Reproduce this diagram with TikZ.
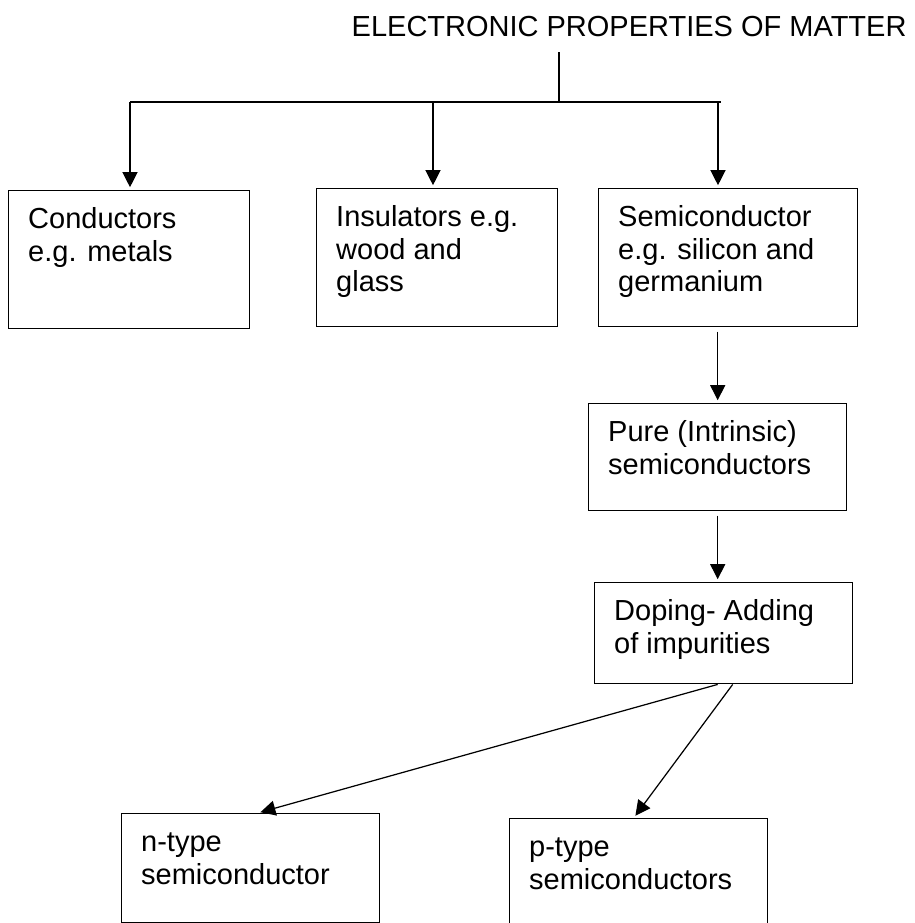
\documentclass[tikz,border=0pt]{standalone}
\usepackage{fontspec}
\setmainfont{Liberation Sans}
\usetikzlibrary{arrows.meta,positioning}

\tikzset{
	box/.style={draw, line width=0.4pt, anchor=north west, inner sep=0pt, minimum width=2.58cm},
	boxtext/.style={anchor=north west, align=left, inner sep=0pt, font=\fontsize{8.25}{9.25}\selectfont},
	arr/.style={-{Triangle[length=0.15cm,width=0.15cm]}, line width=0.35pt, shorten >=0.8pt},
}

\begin{document}
\begin{tikzpicture}
	\useasboundingbox (0,0) rectangle (9.14,-9.23);
	\clip (0,0) rectangle (9.14,-9.23);
	% title and fork
	\node[anchor=base west, inner sep=0pt, font=\fontsize{8.25}{9.25}\selectfont] (title) at (3.51,-0.36) {ELECTRONIC PROPERTIES OF MATTER};
	\coordinate (stem) at (5.59,-0.52);
	\coordinate (fork) at (5.59,-1.02);
	\coordinate (busL) at (1.30,-1.02);
	\coordinate (dI) at (4.33,-1.02);
	\coordinate (dS) at (7.18,-1.02);
	\coordinate (busR) at (7.21,-1.02);
	% boxes
	\node[box, minimum width=2.41cm, minimum height=1.38cm] (cond) at (0.08,-1.90) {};
	\node[box, minimum width=2.41cm, minimum height=1.38cm] (ins) at (3.16,-1.88) {};
	\node[box, minimum width=2.59cm, minimum height=1.38cm] (semi) at (5.98,-1.88) {};
	\node[box, minimum height=1.07cm] (pure) at (5.88,-4.03) {};
	\node[box, minimum height=1.01cm] (dop) at (5.94,-5.82) {};
	\node[box, minimum height=1.09cm] (ntype) at (1.21,-8.13) {};
	\node[box, minimum height=1.30cm] (ptype) at (5.09,-8.18) {};
	% texts
	\node[boxtext] (condtxt) at ([shift={(0.195,-0.152)}]cond.north west) {\strut Conductors\\e.g. metals};
	\node[boxtext] (instxt) at ([shift={(0.195,-0.152)}]ins.north west) {\strut Insulators e.g.\\wood and\\glass};
	\node[boxtext] (semitxt) at ([shift={(0.195,-0.152)}]semi.north west) {\strut Semiconductor\\e.g. silicon and\\germanium};
	\node[boxtext] (puretxt) at ([shift={(0.195,-0.152)}]pure.north west) {\strut Pure (Intrinsic)\\semiconductors};
	\node[boxtext] (doptxt) at ([shift={(0.195,-0.152)}]dop.north west) {\strut Doping- Adding\\of impurities};
	\node[boxtext] (ntxt) at ([shift={(0.195,-0.152)}]ntype.north west) {\strut n-type\\semiconductor};
	\node[boxtext] (ptxt) at ([shift={(0.195,-0.152)}]ptype.north west) {\strut p-type\\semiconductors};
	% connectors
	\draw[line width=0.35pt] (stem) -- (fork);
	\draw[line width=0.35pt] (busL) -- (busR);
	\draw[arr] (busL) -- (busL |- cond.north);
	\draw[arr] (dI) -- (dI |- ins.north);
	\draw[arr] (dS) -- (dS |- semi.north);
	\draw[arr, shorten <=1.2pt] (semi.south -| pure.north) -- (pure.north);
	\draw[arr, shorten <=1.2pt] (pure.south) -- (pure.south |- dop.north);
	\draw[arr] ([xshift=-0.06cm]dop.south) -- ([xshift=0.07cm]ntype.north);
	\draw[arr] ([xshift=0.09cm]dop.south) -- ([xshift=-0.05cm]ptype.north);
\end{tikzpicture}
\end{document}
